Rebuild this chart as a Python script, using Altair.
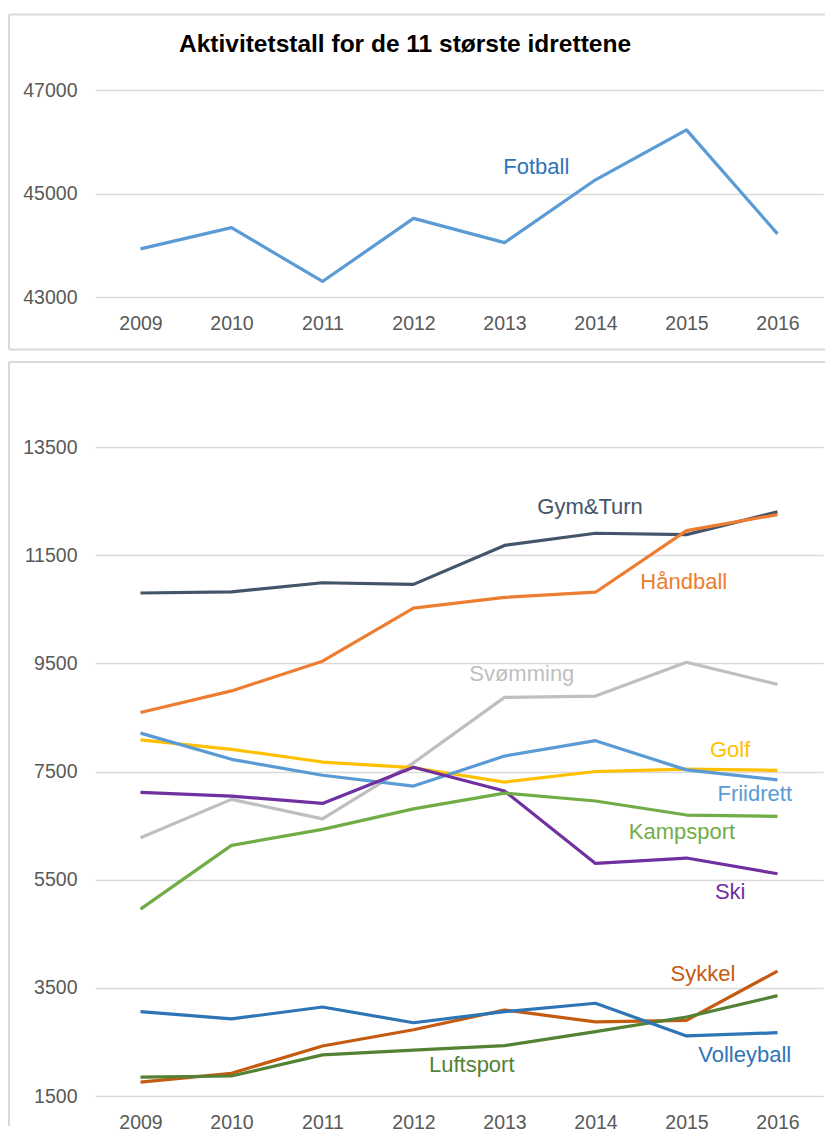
import altair as alt
import pandas as pd

# ---------------- data ----------------
years = [2009, 2010, 2011, 2012, 2013, 2014, 2015, 2016]

fotball = [43930, 44340, 43300, 44520, 44050, 45265, 46230, 44220]

series_names = ["Gym&Turn", "Håndball", "Svømming", "Golf", "Friidrett",
                "Ski", "Kampsport", "Sykkel", "Luftsport", "Volleyball"]
gym_turn = [10800, 10820, 10990, 10960, 11680, 11905, 11880, 12300]
handball = [8590, 8990, 9540, 10520, 10720, 10815, 11955, 12250]
svomming = [6275, 6985, 6625, 7660, 8870, 8895, 9520, 9110]
golf = [8085, 7910, 7675, 7570, 7305, 7500, 7545, 7520]
friidrett = [8210, 7725, 7430, 7230, 7785, 8070, 7530, 7345]
ski = [7115, 7045, 6910, 7580, 7140, 5800, 5900, 5610]
kampsport = [4955, 6135, 6430, 6810, 7100, 6955, 6695, 6670]
sykkel = [1755, 1920, 2425, 2725, 3090, 2870, 2900, 3810]
luftsport = [1850, 1870, 2260, 2350, 2430, 2690, 2960, 3355]
volleyball = [3060, 2925, 3145, 2855, 3060, 3215, 2610, 2670]
series_values = [gym_turn, handball, svomming, golf, friidrett,
                 ski, kampsport, sykkel, luftsport, volleyball]
series_colors = ["#44546A", "#ED7D31", "#BFBFBF", "#FFC000", "#5B9BD5",
                 "#7030A0", "#70AD47", "#C55A11", "#548235", "#2E75B6"]

# direct labels (position in data space)
label_x = [2013.94, 2014.97, 2013.19, 2015.48, 2015.75,
           2015.48, 2014.95, 2015.18, 2012.64, 2015.64]
label_y = [12387, 11001, 9300, 7895, 7082,
           5271, 6380, 3755, 2073, 2258]

fotball_label = ["Fotball"]
fotball_label_x = [2013.35]
fotball_label_y = [45512]

title_text = ["Aktivitetstall for de 11 største idrettene"]

top_ticks = [43000, 45000, 47000]
bottom_ticks = [1500, 3500, 5500, 7500, 9500, 11500, 13500]

# ---------------- style ----------------
FONT = "Liberation Sans"
GRID = "#D9D9D9"
FRAME = "#D9D9D9"
LABEL = "#595959"
W = 728
H_TOP = 207
H_BOT = 649
RIGHT_END = 730

x_scale = alt.Scale(domain=[2008.5, 2016.5], nice=False, zero=False)


def x_axis():
    return alt.Axis(values=years, format="d", title=None, grid=False, domain=False,
                    ticks=False, labelFont=FONT, labelFontSize=19.5, labelColor=LABEL,
                    labelPadding=17, labelFlush=False)


def y_axis(vals):
    return alt.Axis(values=vals, format="d", title=None, domain=False, ticks=False,
                    gridColor=GRID, gridWidth=1.5, labelFont=FONT, labelFontSize=19.5,
                    labelColor=LABEL, labelPadding=18, labelFlush=False)


frame_df = pd.DataFrame({"k": [0]})


def hrule(y):
    return alt.Chart(frame_df).mark_rule(color=FRAME, strokeWidth=2).encode(
        x=alt.value(-86), x2=alt.value(RIGHT_END), y=alt.value(y))


def vrule(y1, y2):
    return alt.Chart(frame_df).mark_rule(color=FRAME, strokeWidth=2).encode(
        x=alt.value(-86), y=alt.value(y1), y2=alt.value(y2))


# ---------------- top panel ----------------
df_top = pd.DataFrame({"year": years, "value": fotball})
top_line = alt.Chart(df_top).mark_line(color="#5B9BD5", strokeWidth=3.2, strokeJoin="round").encode(
    x=alt.X("year:Q", scale=x_scale, axis=x_axis()),
    y=alt.Y("value:Q", scale=alt.Scale(domain=[43000, 47000], nice=False, zero=False),
            axis=y_axis(top_ticks)),
)
top_label = alt.Chart(pd.DataFrame({"t": fotball_label, "x": fotball_label_x, "y": fotball_label_y})).mark_text(
    font=FONT, fontSize=22, color="#2E75B6", align="center", baseline="middle").encode(
    x="x:Q", y="y:Q", text="t:N")
title = alt.Chart(pd.DataFrame({"t": title_text})).mark_text(
    font=FONT, fontSize=24.5, fontWeight="bold", color="#000000", align="center",
    baseline="alphabetic").encode(x=alt.value(310), y=alt.value(-38), text="t:N")

top = alt.layer(
    hrule(-75.5), hrule(259.5), vrule(-75.5, 259.5),
    top_line, top_label, title,
).properties(width=W, height=H_TOP)

# ---------------- bottom panel ----------------
rows = []
for name, vals in zip(series_names, series_values):
    for yr, v in zip(years, vals):
        rows.append({"series": name, "year": yr, "value": v})
df_bot = pd.DataFrame(rows)
df_lab = pd.DataFrame({"series": series_names, "x": label_x, "y": label_y})

color_scale = alt.Scale(domain=series_names, range=series_colors)
y_scale_bot = alt.Scale(domain=[1500, 13500], nice=False, zero=False)

bot_lines = alt.Chart(df_bot).mark_line(strokeWidth=3.2, strokeJoin="round").encode(
    x=alt.X("year:Q", scale=x_scale, axis=x_axis()),
    y=alt.Y("value:Q", scale=y_scale_bot, axis=y_axis(bottom_ticks)),
    color=alt.Color("series:N", scale=color_scale, legend=None),
    detail="series:N",
)
bot_labels = alt.Chart(df_lab).mark_text(
    font=FONT, fontSize=22, align="center", baseline="middle").encode(
    x=alt.X("x:Q", scale=x_scale),
    y=alt.Y("y:Q", scale=y_scale_bot),
    text="series:N",
    color=alt.Color("series:N", scale=color_scale, legend=None),
)

bottom = alt.layer(
    hrule(-85), vrule(-85, H_BOT + 30),
    bot_lines, bot_labels,
).properties(width=W, height=H_BOT)

chart = alt.vconcat(top, bottom, spacing=10).properties(
    padding={"left": 0, "top": 5, "right": 0, "bottom": 0}
).configure_view(stroke=None)

chart.save("out.html", embed_options={"renderer": "svg", "actions": False})
